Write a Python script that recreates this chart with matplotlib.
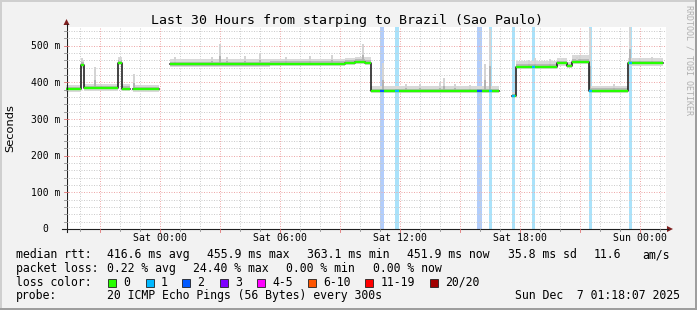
import numpy as np
import matplotlib
matplotlib.use('Agg')
import matplotlib.pyplot as plt
from matplotlib.patches import Rectangle, Polygon
from datetime import datetime, timedelta

W, H = 697, 310
MONO = 'DejaVu Sans Mono'

# graph window: last 30 hours, ending at the probe timestamp
end_time = datetime(2025, 12, 7, 1, 18, 7)
span_hours = 30
start_time = end_time - timedelta(hours=span_hours)

# median rtt in ms, piecewise (hours since start of graph)
seg_start = [0.00, 0.75, 0.90, 2.60, 2.80, 3.35, 5.20, 10.20, 13.95, 14.45, 14.95,
             15.25, 22.30, 22.50, 24.55, 25.05, 25.30, 26.15, 28.10]
seg_end = [0.75, 0.90, 2.60, 2.80, 3.20, 4.65, 10.20, 13.95, 14.45, 14.95, 15.25,
           21.65, 22.50, 24.55, 25.05, 25.30, 26.15, 28.10, 29.85]
seg_median = [382, 447, 384, 454, 383, 382, 449, 451, 453, 456, 454,
              376, 364, 441, 452, 445, 455, 377, 452]
# smoke (spread of the 20 pings) per segment
seg_smoke_top = [394, 462, 396, 468, 395, 394, 464, 465, 467, 470, 469,
                 390, 374, 458, 466, 456, 474, 391, 466]
seg_smoke_bot = [375, 440, 377, 447, 376, 375, 443, 445, 447, 449, 448,
                 370, 359, 436, 446, 439, 450, 371, 446]

# single outlier pings
spike_hour = [0.80, 1.45, 1.75, 2.70, 3.40, 5.45, 7.30, 7.70, 8.05, 8.95, 9.70,
              11.00, 12.20, 13.30, 14.85, 15.85, 17.00, 17.70, 18.70, 18.90,
              19.45, 20.20, 20.95, 21.20, 23.15, 23.45, 24.20, 25.55, 25.70,
              26.20, 27.40, 28.20, 28.70, 29.30]
spike_top = [466, 443, 396, 467, 423, 468, 470, 505, 469, 472, 480,
             470, 472, 474, 505, 452, 396, 395, 400, 411,
             395, 393, 449, 545, 462, 466, 463, 470, 475,
             548, 395, 550, 466, 468]

# packet loss periods
loss_start = [15.70, 16.45, 20.55, 21.15, 22.30, 23.30, 26.15, 28.15]
loss_end = [15.90, 16.625, 20.80, 21.30, 22.45, 23.45, 26.30, 28.30]
loss_level = [2, 1, 2, 1, 1, 1, 1, 1]

loss_labels = ['0', '1', '2', '3', '4-5', '6-10', '11-19', '20/20']
loss_colors = ['#26ff00', '#00b8ff', '#0059ff', '#7e00ff', '#ff00ff',
               '#ff5500', '#ff0000', '#a10000']
band_colors = {1: '#aae2fa', 2: '#b2cdfb'}

title = 'Last 30 Hours from starping to Brazil (Sao Paulo)'
rtt_items = ['median rtt:', '416.6 ms avg', '455.9 ms max', '363.1 ms min',
             '451.9 ms now', '35.8 ms sd', '11.6', 'am/s']
loss_items = ['packet loss:', '0.22 % avg', '24.40 % max', '0.00 % min', '0.00 % now']
probe_text = '20 ICMP Echo Pings (56 Bytes) every 300s'
stamp_text = 'Sun Dec  7 01:18:07 2025'

y_max = 550
ytick_vals = [0, 100, 200, 300, 400, 500]


def median_at(h):
    for s, e, m in zip(seg_start, seg_end, seg_median):
        if s <= h < e:
            return m
    return np.nan


# pixel helpers for the overlay
def X(h):
    return 66 + h * 600 / span_hours


def Y(v):
    return 229 - v * 201.6 / y_max


fig = plt.figure(figsize=(W / 100, H / 100), dpi=100)
fig.patch.set_facecolor('#f2f2f2')

ax = fig.add_axes([66 / W, (H - 229) / H, 600 / W, 201.6 / H])
ax.set_xlim(0, span_hours)
ax.set_ylim(0, y_max)
ax.set_facecolor('white')
for sp in ax.spines.values():
    sp.set_visible(False)
ax.set_xticks([])
ax.set_yticks([])

# loss bands
for s, e, lv in zip(loss_start, loss_end, loss_level):
    ax.axvspan(s, e, color=band_colors[lv], lw=0, zorder=1)

# dotted grid
dots = (0, (1, 1.5))
minor_col, major_col = '#cdcdcd', '#eeaaaa'
for v in range(20, y_max, 20):
    major = v % 100 == 0
    ax.axhline(v, color=major_col if major else minor_col, lw=0.72, ls=dots, zorder=1.5)
first = ((60 - start_time.minute) * 60 - start_time.second) / 3600
hour_marks = np.arange(first, span_hours, 1.0)
for h in hour_marks:
    hh = (start_time + timedelta(hours=float(h))).hour
    major = hh % 3 == 0
    ax.axvline(h, color=major_col if major else minor_col, lw=0.72, ls=dots, zorder=1.5)

# smoke
for s, e, m, top, bot in zip(seg_start, seg_end, seg_median, seg_smoke_top, seg_smoke_bot):
    ax.fill_between([s, e], [bot, bot], [top, top], color='#d9d9d9', lw=0, zorder=2)
    mid = m + (top - m) * 0.5
    ax.fill_between([s, e], [m - 3, m - 3], [mid, mid], color='#b9b9b9', lw=0, zorder=2)

bases = np.array([median_at(h) for h in spike_hour])
tops = np.array(spike_top)
ax.bar(spike_hour, tops - bases, bottom=bases, width=0.1, color='#d4d4d4',
       lw=0, zorder=2.1)
ax.bar(spike_hour, (tops - bases) * 0.4, bottom=bases, width=0.1, color='#b3b3b3',
       lw=0, zorder=2.2)

# median line (black steps, coloured by loss)
xs, ys = [], []
for i, (s, e, m) in enumerate(zip(seg_start, seg_end, seg_median)):
    if i > 0 and abs(seg_end[i - 1] - s) > 1e-6:
        xs.append(np.nan)
        ys.append(np.nan)
    xs += [s, e]
    ys += [m, m]
ax.plot(xs, ys, color='#111111', lw=1.1, zorder=3)
ax.hlines(seg_median, seg_start, seg_end, color=loss_colors[0], lw=1.7, zorder=4)
for s, e, lv in zip(loss_start, loss_end, loss_level):
    ax.hlines(median_at((s + e) / 2), s, e, color=loss_colors[lv], lw=1.7, zorder=5)

# overlay in pixel coordinates
ov = fig.add_axes([0, 0, 1, 1], zorder=10)
ov.set_xlim(0, W)
ov.set_ylim(H, 0)
ov.axis('off')

# frame shading
ov.plot([0, W], [1, 1], color='#cfcfcf', lw=1.44)
ov.plot([1, 1], [0, H], color='#cfcfcf', lw=1.44)
ov.plot([0, W], [H - 1, H - 1], color='#9e9e9e', lw=1.44)
ov.plot([W - 1, W - 1], [0, H], color='#9e9e9e', lw=1.44)

# axes and arrows
ov.plot([66.5, 66.5], [232, 24], color='#1f1f1f', lw=0.8)
ov.plot([62, 668], [229, 229], color='#1f1f1f', lw=0.8)
ov.add_patch(Polygon([(63.5, 25), (69.5, 25), (66.5, 19)], closed=True,
                     color='#7f1f1f', lw=0))
ov.add_patch(Polygon([(667, 226), (667, 232), (673, 229)], closed=True,
                     color='#7f1f1f', lw=0))

for v in range(20, y_max, 20):
    if v % 100 == 0:
        ov.plot([64, 68], [Y(v), Y(v)], color='#e07070', lw=0.6)
    else:
        ov.plot([64, 66.5], [Y(v), Y(v)], color='#8f8f8f', lw=0.6)
for h in hour_marks:
    hh = (start_time + timedelta(hours=float(h))).hour
    if hh % 3 == 0:
        ov.plot([X(h), X(h)], [229, 232], color='#e07070', lw=0.6)
    else:
        ov.plot([X(h), X(h)], [229, 231], color='#8f8f8f', lw=0.6)

# y labels
for v in ytick_vals:
    if v == 0:
        ov.text(48.4, Y(v) + 0.5, '0', ha='right', va='center', fontsize=7, family=MONO)
    else:
        ov.text(60, Y(v) + 0.5, f'{v} m', ha='right', va='center', fontsize=7, family=MONO)

# x labels every 6 hours
lab = start_time.replace(minute=0, second=0) + timedelta(hours=1)
while lab.hour % 6 != 0:
    lab += timedelta(hours=1)
while lab < end_time:
    h = (lab - start_time).total_seconds() / 3600
    ov.text(X(h), 241, lab.strftime('%a %H:%M'), ha='center', va='baseline',
            fontsize=7.1, family=MONO)
    lab += timedelta(hours=6)

ov.text(347, 24, title, ha='center', va='baseline', fontsize=9.5, family=MONO)
ov.text(10.5, 128, 'Seconds', rotation=90, ha='center', va='center', fontsize=8.2,
        family='DejaVu Sans')
ov.text(688.5, 5, 'RRDTOOL / TOBI OETIKER', rotation=270, ha='center', va='top',
        fontsize=6, family=MONO, color='#b0b0b0')

# legend
fs = 8.3
rtt_x = [16, 106.7, 207, 306.7, 407, 507.6, 593.8, 642]
for txt, x in zip(rtt_items, rtt_x):
    ov.text(x, 258.3, txt, ha='left', va='baseline', fontsize=fs, family=MONO)
loss_x = [16, 107.3, 193.3, 286, 372.7]
for txt, x in zip(loss_items, loss_x):
    ov.text(x, 271.9, txt, ha='left', va='baseline', fontsize=fs, family=MONO)

ov.text(16, 285.6, 'loss color:', ha='left', va='baseline', fontsize=fs, family=MONO)
sw_x = [108.4, 145.8, 182.2, 219.6, 256.9, 307.6, 365.3, 430.2]
for lbl, col, x in zip(loss_labels, loss_colors, sw_x):
    ov.add_patch(Rectangle((x, 278.5), 8, 8, facecolor=col, edgecolor='#202020', lw=0.6))
    ov.text(x + 15.2, 285.6, lbl, ha='left', va='baseline', fontsize=fs, family=MONO)

ov.text(16, 299.3, 'probe:', ha='left', va='baseline', fontsize=fs, family=MONO)
ov.text(107.3, 299.3, probe_text, ha='left', va='baseline', fontsize=fs, family=MONO)
ov.text(680, 299.3, stamp_text, ha='right', va='baseline', fontsize=fs, family=MONO)

fig.savefig('out.png', dpi=100, facecolor=fig.get_facecolor())
